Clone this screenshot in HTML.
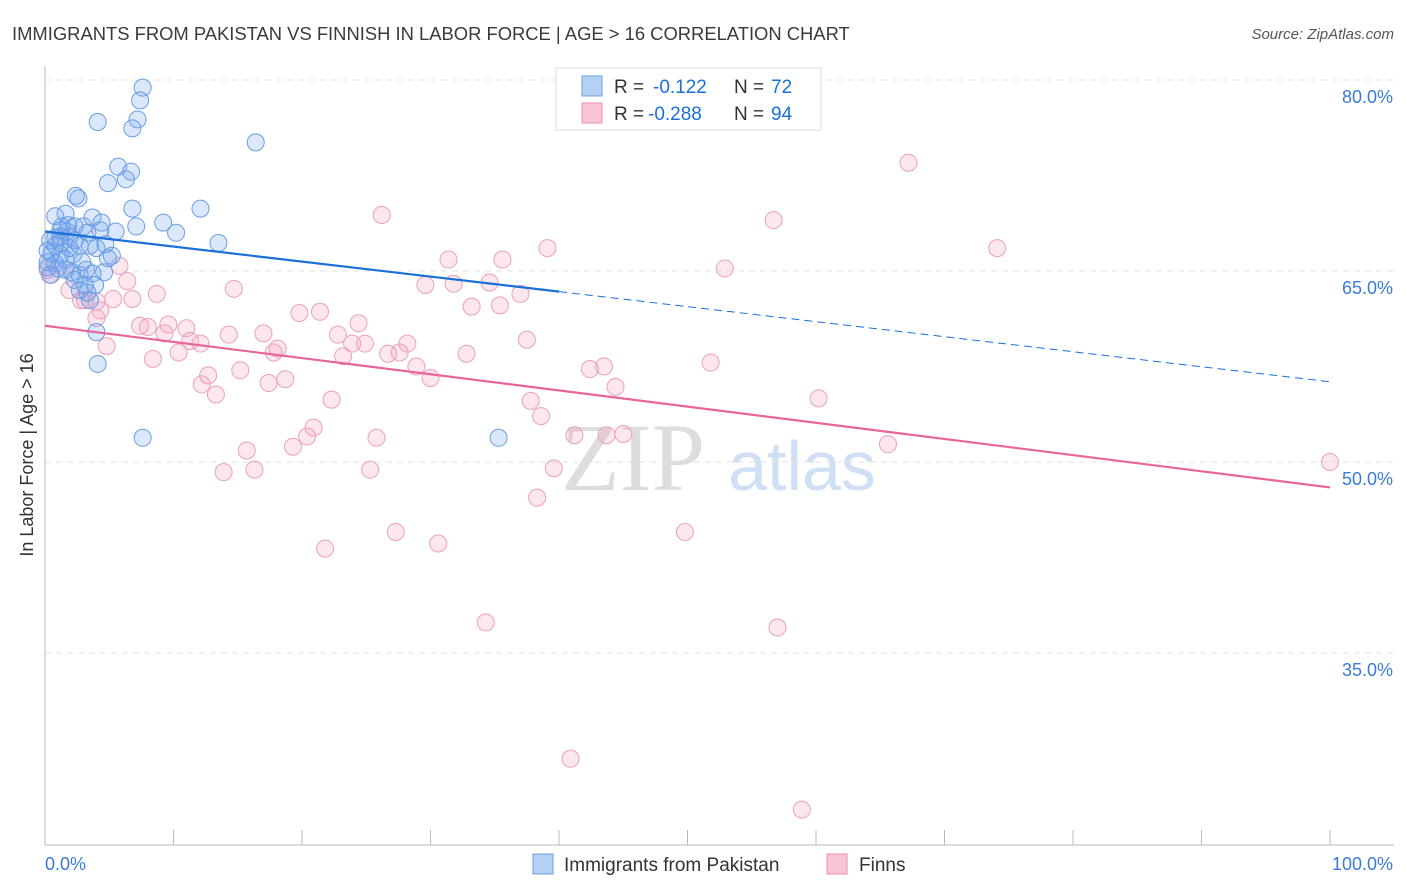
<!DOCTYPE html>
<html><head><meta charset="utf-8"><style>
body{margin:0;background:#fff;font-family:"Liberation Sans",sans-serif;}
svg{display:block}
</style></head><body>
<svg id="chart" width="1406" height="892">
<text x="12" y="40" font-size="18.4" fill="#3a3a3a">IMMIGRANTS FROM PAKISTAN VS FINNISH IN LABOR FORCE | AGE &gt; 16 CORRELATION CHART</text>
<text x="1394" y="39" font-size="15" fill="#555" text-anchor="end" font-style="italic">Source: ZipAtlas.com</text>
<text x="33" y="455" font-size="18" fill="#333" text-anchor="middle" transform="rotate(-90 33 455)">In Labor Force | Age &gt; 16</text>
<g>
<text x="633" y="490" font-size="96" fill="#ddd" text-anchor="middle" font-family="Liberation Serif,serif">ZIP</text>
<text x="802" y="490" font-size="70" fill="#cfe0f5" text-anchor="middle">atlas</text>
</g>
<g id="grid"></g><g id="axes"></g><g id="marks"></g>
<g>
<rect x="556" y="68" width="265" height="62" fill="#fff" stroke="#ddd"/>
<rect x="582" y="76" width="20" height="20" fill="#b5d0f5" stroke="#6a9de0"/>
<rect x="582" y="103" width="20" height="20" fill="#f9c5d5" stroke="#e890ad"/>
<text x="614" y="93" font-size="19" fill="#333">R =</text>
<text x="653" y="93" font-size="19" fill="#1a6fd8">-0.122</text>
<text x="734" y="93" font-size="19" fill="#333">N =</text>
<text x="771" y="93" font-size="19" fill="#1a6fd8">72</text>
<text x="614" y="120" font-size="19" fill="#333">R =</text>
<text x="648" y="120" font-size="19" fill="#1a6fd8">-0.288</text>
<text x="734" y="120" font-size="19" fill="#333">N =</text>
<text x="771" y="120" font-size="19" fill="#1a6fd8">94</text>
</g>
<g>
<rect x="533" y="854" width="20" height="20" fill="#b5d0f5" stroke="#6a9de0"/>
<text x="564" y="871" font-size="19" fill="#333">Immigrants from Pakistan</text>
<rect x="827" y="854" width="20" height="20" fill="#f9c5d5" stroke="#e890ad"/>
<text x="859" y="871" font-size="19" fill="#333">Finns</text>
</g>
</svg>
<script>
const yTicks=[80,65,50,35];
const xTickLabels=["0.0%","100.0%"];
const blueX=[7.6,7.4,7.2,6.8,4.1,16.4,5.7,6.7,6.3,4.9,2.4,2.6,6.8,12.1,0.8,1.6,3.7,9.2,7.1,10.2,5.5,3.0,1.3,13.5,4.7,5.2,0.4,0.8,1.2,1.9,2.3,3.3,4.3,0.2,0.5,1.2,1.9,2.7,3.5,4.0,0.2,0.8,1.6,2.1,2.7,3.2,3.7,4.6,3.1,3.9,2.7,2.3,3.5,4.0,4.1,7.6,35.3,1.2,1.7,0.2,0.8,1.6,2.2,2.9,0.4,1.0,3.3,4.9,1.2,2.3,1.8,4.4];
const blueY=[79.4,78.4,76.9,76.2,76.7,75.1,73.2,72.8,72.2,71.9,70.9,70.7,69.9,69.9,69.3,69.5,69.2,68.8,68.5,68.0,68.1,68.5,68.5,67.2,67.1,66.2,67.4,67.6,67.7,67.7,67.4,68.0,68.2,66.6,66.4,66.3,66.8,67.0,67.0,66.8,65.3,65.6,65.1,64.9,64.7,65.1,64.8,64.9,63.9,63.9,63.5,64.3,62.7,60.2,57.7,51.9,51.9,68.2,68.1,65.7,67.0,65.9,66.3,65.7,64.7,65.2,63.3,66.0,67.2,68.5,68.6,68.8];
const pinkX=[67.2,26.2,56.7,74.1,39.1,31.4,35.6,52.9,5.8,1.6,34.6,29.6,31.8,37.0,8.7,14.7,6.4,5.3,6.8,2.8,4.0,4.3,33.2,35.4,19.8,21.4,4.0,7.4,8.0,9.6,11.0,9.3,14.3,17.0,22.8,24.4,11.3,12.1,23.9,24.9,28.2,37.5,4.8,10.4,8.4,17.8,18.1,26.7,27.6,23.2,32.8,51.8,42.4,43.5,12.7,15.2,28.9,30.0,18.7,12.2,17.4,44.4,13.3,60.2,37.8,38.6,22.3,20.9,20.4,19.3,25.8,41.2,43.7,45.0,65.6,15.7,13.9,16.3,25.3,39.6,100,38.3,27.3,49.8,21.8,30.6,34.3,57.0,40.9,58.9,0.2,0.5,1.9,3.1];
const pinkY=[73.5,69.4,69.0,66.8,66.8,65.9,65.9,65.2,65.4,65.1,64.1,63.9,64.0,63.2,63.2,63.6,64.2,62.8,62.8,62.7,62.6,61.9,62.2,62.3,61.7,61.8,61.3,60.7,60.6,60.8,60.5,60.1,60.0,60.1,60.0,60.9,59.5,59.3,59.3,59.3,59.3,59.6,59.1,58.6,58.1,58.6,58.9,58.5,58.6,58.3,58.5,57.8,57.3,57.5,56.8,57.2,57.5,56.6,56.5,56.1,56.2,55.9,55.3,55.0,54.8,53.6,54.9,52.7,52.0,51.2,51.9,52.1,52.1,52.2,51.4,50.9,49.2,49.4,49.4,49.5,50.0,47.2,44.5,44.5,43.2,43.6,37.4,37.0,26.7,22.7,65.1,64.7,63.5,62.7];
const blueTrend=[68.1,56.3];
const pinkTrend=[60.7,48.0];
const NS="http://www.w3.org/2000/svg";
const X=v=>45+v*12.85;
const Y=v=>80+(80-v)*12.733;
function mk(p,t,a){const e=document.createElementNS(NS,t);for(const k in a)e.setAttribute(k,a[k]);p.appendChild(e);return e;}
const grid=document.getElementById('grid'),axes=document.getElementById('axes'),marks=document.getElementById('marks');
yTicks.forEach(v=>{
 const l=mk(grid,'line',{x1:45,x2:1394,y1:Y(v),y2:Y(v),stroke:'#e2e2e2','stroke-dasharray':'6,5'});
 
 
 const t=mk(axes,'text',{x:1393,y:Y(v)+23,'font-size':18,fill:'#3a7bd5','text-anchor':'end'});
 t.textContent=v.toFixed(1)+'%';
 
 
});
const ax=mk(axes,'line',{x1:45,x2:45,y1:66,y2:845,stroke:'#bbb'});


const bx=mk(axes,'line',{x1:45,x2:1394,y1:845,y2:845,stroke:'#bbb'});


for(let i=0;i<=10;i++){
 const tk=mk(axes,'line',{x1:X(i*10),x2:X(i*10),y1:830,y2:845,stroke:'#bbb'});
 
 
}
const xl0=mk(axes,'text',{x:45,y:870,'font-size':18,fill:'#3a7bd5'});xl0.textContent=xTickLabels[0];


const xl1=mk(axes,'text',{x:1393,y:870,'font-size':18,fill:'#3a7bd5','text-anchor':'end'});xl1.textContent=xTickLabels[1];


pinkX.forEach((x,i)=>{
 const c=mk(marks,'circle',{cx:X(x),cy:Y(pinkY[i]),r:8.5,fill:'rgba(244,160,190,0.25)',stroke:'#eba0ba','stroke-width':1});
 
 
});
blueX.forEach((x,i)=>{
 const c=mk(marks,'circle',{cx:X(x),cy:Y(blueY[i]),r:8.5,fill:'rgba(110,165,240,0.25)',stroke:'#6a9de3','stroke-width':1});
 
 
});
const bt=v=>blueTrend[0]+(blueTrend[1]-blueTrend[0])*v/100;
const l1=mk(marks,'line',{x1:X(0),y1:Y(bt(0)),x2:X(40),y2:Y(bt(40)),stroke:'#1a6fd8','stroke-width':2.2});


const l2=mk(marks,'line',{x1:X(40),y1:Y(bt(40)),x2:X(100),y2:Y(bt(100)),stroke:'#1a6fd8','stroke-width':1,'stroke-dasharray':'8,5'});


const l3=mk(marks,'line',{x1:X(0),y1:Y(pinkTrend[0]),x2:X(100),y2:Y(pinkTrend[1]),stroke:'#e8659a','stroke-width':2.2});


</script>
</body></html>
